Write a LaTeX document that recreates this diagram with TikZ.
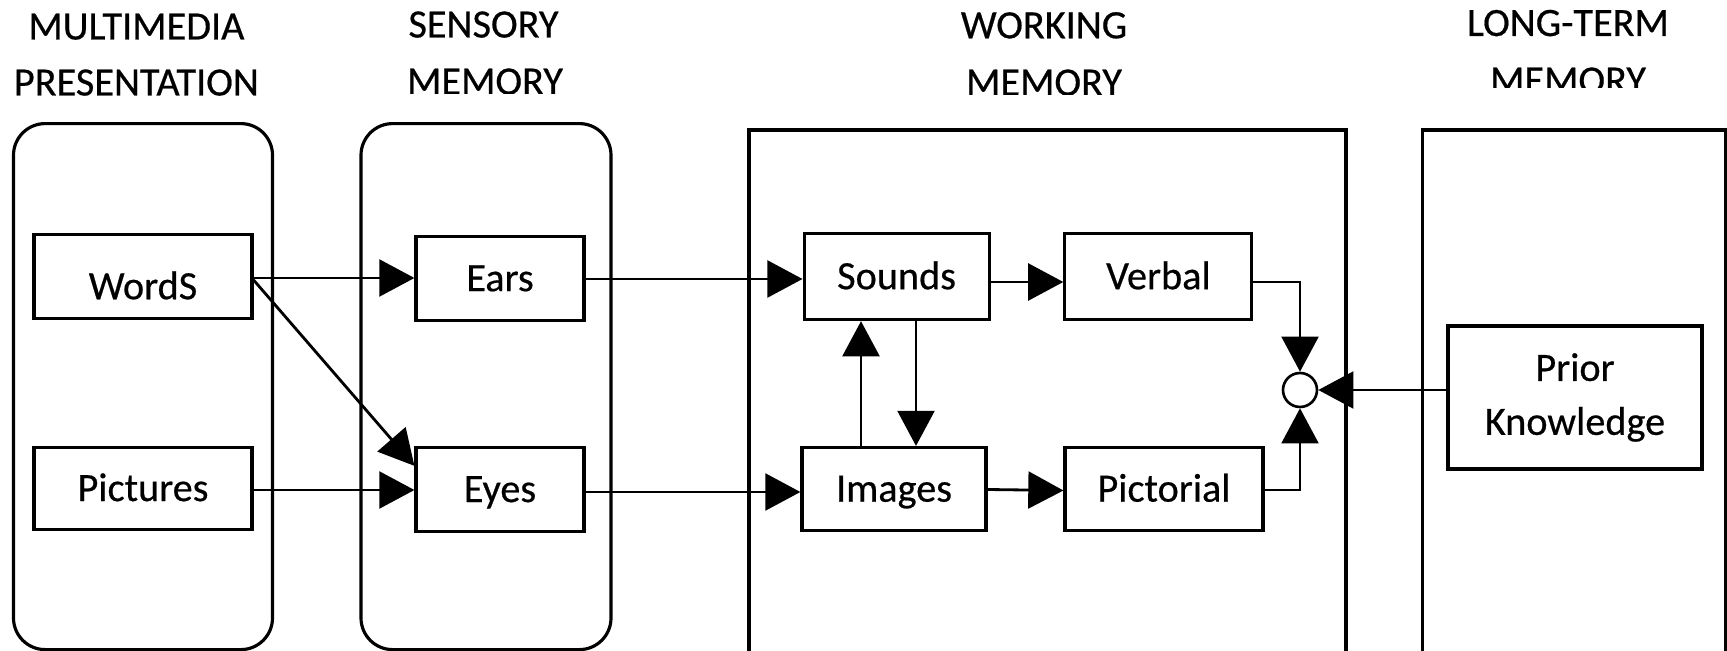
\documentclass[tikz,border=0pt]{standalone}
\usepackage{fontspec}
\setmainfont{Carlito}[FakeBold=0.5]
\usetikzlibrary{arrows.meta,calc}
\begin{document}
\begin{tikzpicture}[x=0.02cm,y=-0.02cm,
  every node/.style={font=\fontsize{22.9}{31}\selectfont, inner sep=0pt},
  bw/.style={minimum width=#1*0.02cm},
  bh/.style={minimum height=#1*0.02cm},
  boxbase/.style={draw, line width=1.8pt, rectangle},
  box/.style={boxbase, text height=14.4pt, text depth=0pt},
  panel/.style={draw, line width=1.8pt, rectangle},
  conn/.style={line width=1.6pt, -{Triangle[length=20pt,width=21pt]}},
  title/.style={anchor=base}
]
\useasboundingbox (0,0) rectangle (1727,651);
\clip (0,0) rectangle (1727,651);

% panels
\node[panel, rounded corners=18pt, bw=259, bh=526] (mmp) at (143,386.6) {};
\node[panel, rounded corners=18pt, bw=250, bh=526] (sens) at (486,386.6) {};
\node[panel, bw=597, bh=570] (work) at (1047.5,415) {};
\node[panel, bw=303, bh=570] (ltm) at (1574,415) {};

% titles
\node[title] (t1a) at (136.4,39.5) {MULTIMEDIA};
\node[title] (t1b) at (136.4,95.5) {PRESENTATION};
\node[title] (t2a) at (483.5,37.5) {SENSORY};
\begin{scope}
\clip (380,60) rectangle (600,94);
\node[title] (t2b) at (485,94.5) {MEMORY};
\end{scope}
\node[title] (t3a) at (1044,38.3) {WORKING};
\begin{scope}
\clip (940,60) rectangle (1150,95);
\node[title] (t3b) at (1044,95.5) {MEMORY};
\end{scope}
\node[title] (t4a) at (1568,36) {LONG-TERM};
\begin{scope}
\clip (1440,55) rectangle (1700,88);
\node[title] (t4b) at (1568,93.5) {MEMORY};
\end{scope}

% inner boxes
\node[box, bw=218, bh=84, text height=25.8pt] (words) at (143,276.6) {WordS};
\node[box, bw=218, bh=82] (pictures) at (143,488.4) {Pictures};
\node[box, bw=168, bh=84] (ears) at (500,278.5) {Ears};
\node[box, bw=168, bh=84] (eyes) at (500,489.4) {Eyes};
\node[box, bw=185, bh=86] (sounds) at (896.6,276.6) {Sounds};
\node[box, bw=187, bh=86] (verbal) at (1158.4,276.6) {Verbal};
\node[box, bw=184, bh=83] (images) at (894,489) {Images};
\node[box, bw=198, bh=83] (pictorial) at (1164,489) {Pictorial};
\node[boxbase, bw=254, bh=143, align=center,
      font=\fontsize{22.9}{30.7}\selectfont] (prior) at (1575,397.5) {Prior\\Knowledge};
\node[draw, circle, line width=1.5pt, minimum size=34*0.02cm] (circ) at (1300,390) {};

% connectors
\draw[conn] (words.east |- 0,278) -- (ears.west |- 0,278);
\draw[conn] (words.east |- 0,280) -- ($(eyes.north west)!0.23!(eyes.south west)$);
\draw[conn] (pictures.east |- 0,490) -- (eyes.west |- 0,490);
\draw[conn] (ears.east |- 0,279) -- (sounds.west |- 0,279);
\draw[conn] (eyes.east |- 0,492) -- (images.west |- 0,492);
\draw[conn] (sounds.east |- 0,282) -- (verbal.west |- 0,282);
\draw[conn] (images.east |- 0,489.5) -- (pictorial.west |- 0,490.5);
\draw[conn] (images.north -| 861,0) -- (sounds.south -| 861,0);
\draw[conn] (sounds.south -| 916,0) -- (images.north -| 916,0);
\draw[conn] (verbal.east |- 0,282) -| (circ.north);
\draw[conn] (pictorial.east |- 0,490) -| (circ.south);
\draw[conn] (prior.west |- circ.east) -- (circ.east);
\end{tikzpicture}
\end{document}
